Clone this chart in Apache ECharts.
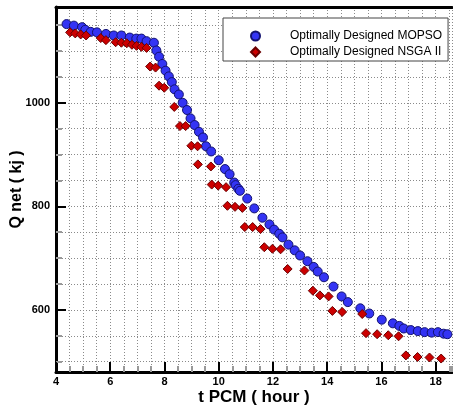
<!DOCTYPE html>
<html>
<head>
<meta charset="utf-8">
<script src="https://cdn.jsdelivr.net/npm/echarts@6/dist/echarts.min.js"></script>
<style>html,body{margin:0;padding:0;background:#fff;}#c{width:453px;height:408px;}</style>
</head>
<body>
<div id="c"></div>
<script>
// MOPSO series
const mopsoX = [4.39,4.66,4.96,5.08,5.28,5.51,5.84,6.13,6.41,6.72,6.96,7.15,7.34,7.61,7.70,7.80,7.92,8.04,8.16,8.27,8.37,8.53,8.67,8.83,8.96,9.11,9.27,9.42,9.53,9.72,10.00,10.23,10.40,10.57,10.62,10.72,10.78,11.05,11.31,11.61,11.87,12.04,12.23,12.35,12.57,12.80,13.00,13.27,13.50,13.65,13.88,14.23,14.53,14.76,15.22,15.55,16.01,16.42,16.66,16.82,17.08,17.34,17.59,17.85,18.08,18.29,18.43];
const mopsoY = [1152,1149,1146,1141,1137,1136,1133,1130,1130,1126,1124,1124,1119,1116,1101,1089,1075,1062,1051,1040,1026,1016,1000,986,970,957,944,933,916,906,889,872,862,846,841,834,830,815,796,778,765,755,747,740,726,715,705,694,683,674,663,645,626,615,603,593,581,574,569,564,561,559,557,556,557,554,553];
// NSGA II series
const nsgaX = [4.52,4.71,4.91,5.11,5.65,5.84,6.20,6.41,6.61,6.80,6.97,7.15,7.34,7.47,7.67,7.80,7.99,8.36,8.57,8.78,8.99,9.22,9.23,9.71,9.74,9.98,10.27,10.32,10.60,10.87,10.96,11.25,11.54,11.68,11.98,12.28,12.54,13.16,13.47,13.73,14.05,14.19,14.55,15.29,15.43,15.84,16.25,16.63,16.90,17.33,17.77,18.20];
const nsgaY = [1136,1134,1132,1130,1125,1121,1117,1116,1115,1112,1110,1108,1106,1070,1068,1033,1029,992,955,955,917,916,881,877,842,840,837,801,799,797,760,760,756,721,718,717,679,676,637,628,626,598,596,592,555,553,551,549,512,509,508,506];
const seriesNames = ['Optimally Designed MOPSO','Optimally Designed NSGA II'];
const xTitle = 't PCM ( hour )';
const yTitle = 'Q net ( kj )';
// y tick values
const yMajorTicks = [600, 800, 1000];
const yMinorTicks = [500, 550, 600, 650, 700, 750, 800, 850, 900, 950, 1000, 1050, 1100, 1150];

const zip = (a,b) => a.map((v,i)=>[v,b[i]]);
const labelFont = {fontFamily:'"Liberation Sans Narrow","Liberation Sans",Arial,sans-serif', fontWeight:'bold', fontSize:11, color:'#000'};
const dotted = {color:'#8a8a8a', width:1, type:[1,2]};

const chart = echarts.init(document.getElementById('c'), null, {renderer:'canvas'});
chart.setOption({
  animation:false,
  backgroundColor:'#fff',
  grid:{left:56, right:1, top:7, bottom:36, containLabel:false, outerBoundsMode:'none'},
  xAxis:[
    {type:'value', min:4, max:18.6, interval:0.5, position:'bottom',
     axisLine:{show:true, lineStyle:{color:'#000', width:3}},
     axisTick:{show:true, inside:true, length:6, lineStyle:{color:'#999', width:2}},
     axisLabel:{show:false}, splitLine:{show:true, lineStyle:dotted}},
    {type:'value', min:4, max:18.6, interval:2, position:'bottom',
     axisLine:{show:false},
     axisTick:{show:true, inside:true, length:10, lineStyle:{color:'#000', width:2}},
     axisLabel:Object.assign({show:true, margin:4, showMaxLabel:false}, labelFont),
     splitLine:{show:false},
     name:xTitle, nameLocation:'middle', nameGap:17, nameMoveOverlap:false,
     nameTextStyle:{fontFamily:'"Liberation Sans",Arial,sans-serif', fontWeight:'bold', fontSize:17, color:'#000'}},
    {type:'value', min:4, max:18.6, position:'top',
     axisLine:{show:true, lineStyle:{color:'#000', width:3}},
     axisTick:{show:false}, axisLabel:{show:false}, splitLine:{show:false}}
  ],
  yAxis:[
    {type:'value', min:480, max:1185, position:'left',
     axisLine:{show:true, lineStyle:{color:'#000', width:3}},
     axisTick:{show:true, inside:true, length:6, customValues:yMinorTicks, lineStyle:{color:'#999', width:2}},
     axisLabel:{show:false},
     splitLine:{show:true, customValues:yMinorTicks, lineStyle:dotted}},
    {type:'value', min:480, max:1185, position:'left',
     axisLine:{show:false},
     axisTick:{show:true, inside:true, length:10, customValues:yMajorTicks, lineStyle:{color:'#000', width:2}},
     axisLabel:Object.assign({show:true, margin:6, customValues:yMajorTicks, formatter:v=>String(v)}, labelFont),
     splitLine:{show:false},
     name:yTitle, nameLocation:'middle', nameGap:31, nameRotate:90, nameMoveOverlap:false,
     nameTextStyle:{fontFamily:'"Liberation Sans",Arial,sans-serif', fontWeight:'bold', fontSize:16, color:'#000'}}
  ],
  legend:{
    orient:'vertical', left:223, top:18,
    padding:[12,6,3,27], itemWidth:9, itemHeight:9, itemGap:4,
    backgroundColor:'#fff', borderColor:'#444', borderWidth:1,
    textStyle:{fontFamily:'"Liberation Sans",Arial,sans-serif', fontSize:12, color:'#000', padding:[0,0,0,25]},
    data:seriesNames
  },
  series:[
    {name:seriesNames[0], type:'scatter', xAxisIndex:0, yAxisIndex:0, data:zip(mopsoX,mopsoY),
     symbol:'circle', symbolSize:9,
     itemStyle:{color:'#3434f4', borderColor:'#121270', borderWidth:1, opacity:1}},
    {name:seriesNames[1], type:'scatter', xAxisIndex:0, yAxisIndex:0, data:zip(nsgaX,nsgaY),
     symbol:'diamond', symbolSize:9,
     itemStyle:{color:'#cc0000', borderColor:'#6a0000', borderWidth:1, opacity:1}}
  ]
});
</script>
</body>
</html>
